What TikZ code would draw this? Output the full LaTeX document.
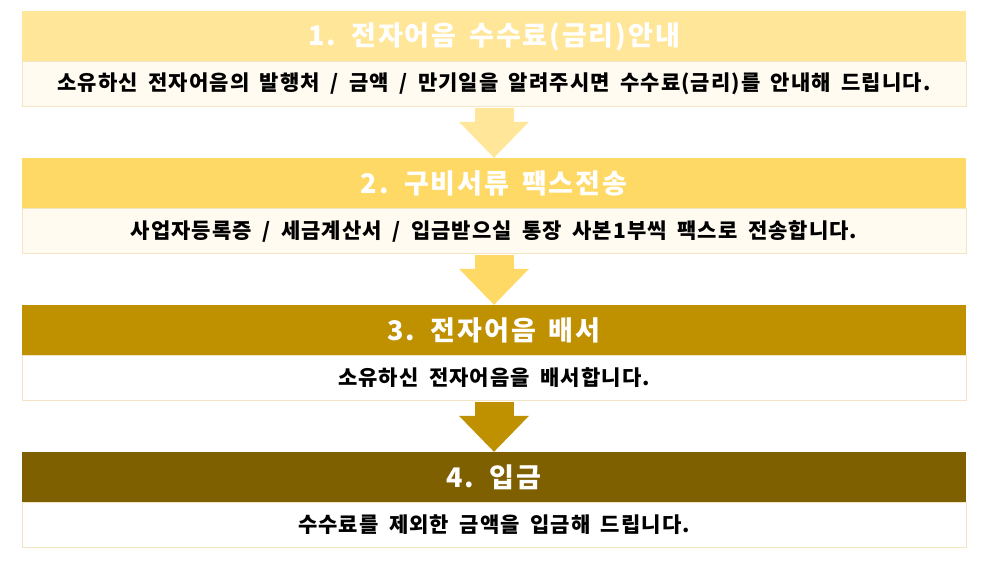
\documentclass[tikz,border=0pt]{standalone}
\usepackage{fontspec}
\setmainfont{Noto Sans CJK KR}
\newfontfamily\hdrfont{Noto Sans CJK KR}[LetterSpace=7, WordSpace=1.6]
\newfontfamily\infofont{Noto Sans CJK KR}[LetterSpace=5, WordSpace=1.8]
\usetikzlibrary{arrows.meta}
\definecolor{hdrA}{HTML}{FFE699}
\definecolor{hdrB}{HTML}{FFD966}
\definecolor{hdrC}{HTML}{BF9000}
\definecolor{hdrD}{HTML}{7F6000}
\definecolor{cream}{HTML}{FFFBF0}
\definecolor{rim}{HTML}{F3E4C4}
\tikzstyle{hdr}=[rectangle, minimum width=944pt, minimum height=51pt,
                 inner sep=0pt, text=white, font=\hdrfont\bfseries\fontsize{27}{31}\selectfont]
\tikzstyle{info}=[rectangle, draw=rim, line width=0.8pt,
                  minimum width=944pt, minimum height=45pt,
                  inner sep=0pt, font=\infofont\bfseries\fontsize{21}{25}\selectfont]
\tikzstyle{edge}=[line width=39pt, shorten <=1pt,
                  -{Triangle[length=36pt, width=70pt, line width=0pt]}]

\begin{document}
\begin{tikzpicture}[x=1pt, y=-1pt]
     \useasboundingbox (0,0) rectangle (991,569);
     \node (h1) at (494,36.5)  [hdr, fill=hdrA] {1. 전자어음 수수료(금리)안내};
     \node (b1) at (494,84)    [info, fill=cream] {소유하신 전자어음의 발행처 / 금액 / 만기일을 알려주시면 수수료(금리)를 안내해 드립니다.};
     \node (h2) at (494,183.5) [hdr, fill=hdrB] {2. 구비서류 팩스전송};
     \node (b2) at (494,231)   [info, fill=cream] {사업자등록증 / 세금계산서 / 입금받으실 통장 사본1부씩 팩스로 전송합니다.};
     \node (h3) at (494,330.5) [hdr, fill=hdrC] {3. 전자어음 배서};
     \node (b3) at (494,378)   [info, fill=white] {소유하신 전자어음을 배서합니다.};
     \node (h4) at (494,477.5) [hdr, fill=hdrD] {4. 입금};
     \node (b4) at (494,525)   [info, fill=white] {수수료를 제외한 금액을 입금해 드립니다.};

     \foreach \u/\v/\c in {b1/h2/hdrA, b2/h3/hdrB, b3/h4/hdrC}
       \draw [edge, draw=\c] (\u) to (\v);
\end{tikzpicture}
\end{document}
